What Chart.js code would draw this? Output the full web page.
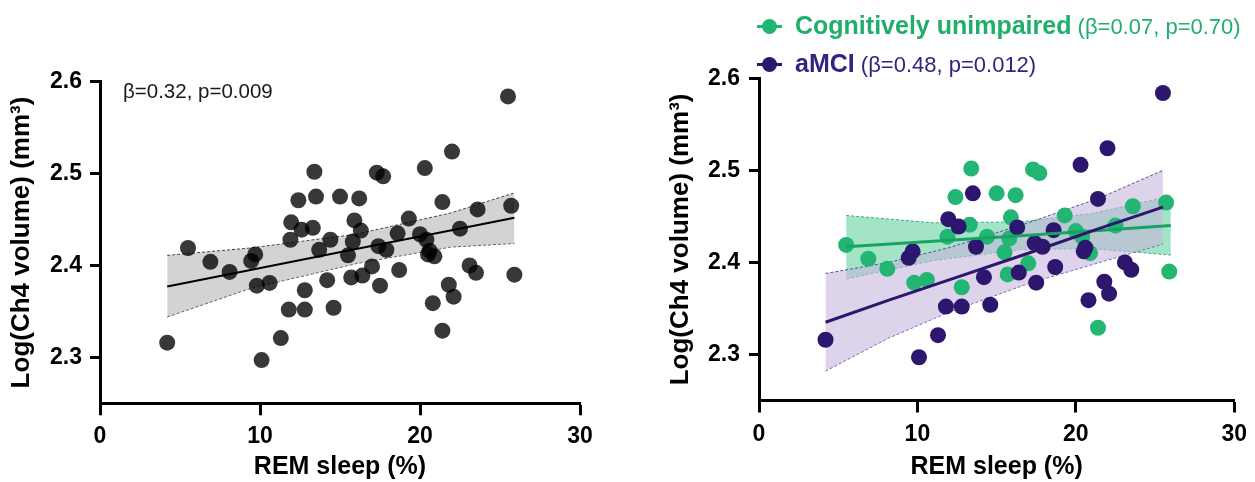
<!DOCTYPE html>
<html>
<head>
<meta charset="utf-8">
<script src="https://cdn.jsdelivr.net/npm/chart.js@4.4.1/dist/chart.umd.min.js"></script>
<style>
  body { margin:0; background:#fff; width:1255px; height:482px; overflow:hidden; position:relative;
         font-family:"Liberation Sans", Arial, sans-serif; }
  canvas { position:absolute; top:0; }
  #left  { left:0; }
  #right { left:655px; }
  .note { position:absolute; left:123px; top:78px; font-size:20.5px; line-height:26px; color:#1a1a1a; white-space:nowrap; }
  .leg  { position:absolute; left:757px; height:30px; line-height:30px; font-size:22px; white-space:nowrap; }
  .leg b { font-size:25px; }
  .mk { display:inline-block; position:relative; width:25px; height:3px; vertical-align:middle; margin-right:13px; top:-2px; }
  .mk::after { content:""; position:absolute; left:5px; top:-6px; width:15px; height:15px; border-radius:50%; background:inherit; }
</style>
</head>
<body>
<canvas id="left" width="630" height="482"></canvas>
<canvas id="right" width="600" height="482"></canvas>
<div class="note">β=0.32, p=0.009</div>
<div class="leg" style="top:10px;color:#1faf6b"><span class="mk" style="background:#22b573"></span><b>Cognitively unimpaired</b> (β=0.07, p=0.70)</div>
<div class="leg" style="top:48px;color:#35237f"><span class="mk" style="background:#2c166e"></span><b>aMCI</b> (β=0.48, p=0.012)</div>
<script>
const FONT = '"Liberation Sans", Arial, sans-serif';
const X_TICKS = [0, 10, 20, 30];
const Y_TICKS = [2.3, 2.4, 2.5, 2.6];

// cognitively unimpaired: REM sleep (%) / log Ch4 volume
const cuRem = [5.5, 6.9, 8.1, 9.8, 10.6, 11.9, 12.4, 12.8, 13.3, 13.4, 14.4, 15.0, 15.5, 15.7, 15.8,
               15.9, 16.2, 17.0, 17.3, 17.7, 19.3, 20.0, 20.4, 20.9, 21.4, 22.5, 23.6, 25.7, 25.9];
const cuVol = [2.419, 2.404, 2.393, 2.378, 2.381, 2.428, 2.471, 2.373, 2.441, 2.502, 2.428, 2.475, 2.411, 2.387, 2.426,
               2.449, 2.473, 2.399, 2.501, 2.497, 2.451, 2.434, 2.428, 2.410, 2.329, 2.440, 2.461, 2.465, 2.390];

// aMCI
const mciRem = [4.2, 9.45, 9.7, 10.1, 11.3, 11.8, 11.95, 12.6, 12.8, 13.5, 13.7, 14.2, 14.6, 16.3, 16.4, 17.4,
                17.5, 17.9, 18.6, 18.7, 20.3, 20.5, 20.6, 20.8, 21.4, 21.8, 22.0, 22.1, 23.1, 23.5, 25.5];
const mciVol = [2.316, 2.405, 2.412, 2.297, 2.321, 2.352, 2.447, 2.439, 2.352, 2.475, 2.417, 2.384, 2.354, 2.438, 2.389, 2.421,
                2.378, 2.417, 2.435, 2.395, 2.506, 2.412, 2.416, 2.359, 2.469, 2.379, 2.524, 2.366, 2.400, 2.392, 2.584];

// fitted lines and 95% bands
const allFitX = [4.2, 9.4, 16, 21.9, 25.9];
const allFit  = [2.377, 2.395, 2.418, 2.438, 2.452];
const allUp   = [2.411, 2.419, 2.434, 2.457, 2.479];
const allLo   = [2.344, 2.375, 2.402, 2.420, 2.424];

const cuFitX = [5.5, 11, 16.5, 21, 26];
const cuFit  = [2.417, 2.423, 2.429, 2.434, 2.440];
const cuUp   = [2.451, 2.443, 2.444, 2.453, 2.472];
const cuLo   = [2.382, 2.402, 2.414, 2.415, 2.408];

const mciFitX = [4.2, 8.2, 12, 17, 21.5, 25.5];
const mciFit  = [2.335, 2.359, 2.381, 2.410, 2.437, 2.460];
const mciUp   = [2.388, 2.400, 2.416, 2.443, 2.470, 2.500];
const mciLo   = [2.282, 2.318, 2.346, 2.377, 2.400, 2.420];

const GREEN = '#22b573', PURPLE = '#2c166e';

const pts = (xs, ys) => xs.map((x, i) => ({ x, y: ys[i] }));

function lineSet(xs, ys, color, width, extra) {
  return Object.assign({ type: 'line', data: pts(xs, ys), borderColor: color, borderWidth: width,
    pointRadius: 0, tension: 0, fill: false }, extra || {});
}
function dotSet(xs, ys, color) {
  return { type: 'scatter', data: pts(xs, ys), backgroundColor: color, borderWidth: 0, pointRadius: 8 };
}

function axes(g) {
  const tickFont = { family: FONT, size: 23, weight: 'bold' };
  const titleFont = { family: FONT, size: 25, weight: 'bold' };
  return {
    x: {
      type: 'linear', min: 0, max: 30,
      afterFit: s => { s.height = g.xh; },
      afterBuildTicks: s => { s.ticks = X_TICKS.map(v => ({ value: v })); },
      border: { display: true, color: '#000', width: 3 },
      grid: { drawOnChartArea: false, drawTicks: true, tickLength: 12, tickWidth: 3, tickColor: '#000' },
      ticks: { color: '#000', font: tickFont, padding: 8, maxRotation: 0 },
      title: { display: true, text: 'REM sleep (%)', color: '#000', font: titleFont, padding: 0 }
    },
    y: {
      type: 'linear', min: 2.25, max: 2.6,
      afterFit: s => { s.width = g.yw; },
      afterBuildTicks: s => { s.ticks = Y_TICKS.map(v => ({ value: v })); },
      border: { display: true, color: '#000', width: 3 },
      grid: { drawOnChartArea: false, drawTicks: true, tickLength: 10, tickWidth: 3, tickColor: '#000' },
      ticks: { color: '#000', font: tickFont, padding: g.tp, callback: v => v.toFixed(1) },
      title: { display: true, text: 'Log(Ch4 volume) (mm³)', color: '#000', font: { family: FONT, size: 26, weight: 'bold' },
               padding: { top: g.tt, bottom: 0 } }
    }
  };
}

function makeChart(id, datasets, g) {
  return new Chart(document.getElementById(id), {
    type: 'scatter',
    data: { datasets },
    options: {
      responsive: false, animation: false, events: [],
      layout: { padding: { left: 0, top: g.top, right: g.right, bottom: 0 } },
      plugins: { legend: { display: false }, tooltip: { enabled: false } },
      scales: axes(g)
    }
  });
}

// left: all participants
makeChart('left', [
  lineSet(allFitX, allFit, '#000', 2),
  dotSet(cuRem.concat(mciRem), cuVol.concat(mciVol), 'rgba(0,0,0,0.78)'),
  lineSet(allFitX, allUp, '#444', 1, { borderDash: [3, 2], fill: { target: 3 }, backgroundColor: 'rgba(175,175,175,0.55)' }),
  lineSet(allFitX, allLo, '#444', 1, { borderDash: [3, 2] })
], { top: 81.7, right: 50, xh: 78.7, yw: 100, tp: 8, tt: 6 });

// right: by group
makeChart('right', [
  lineSet(mciFitX, mciFit, PURPLE, 3),
  lineSet(cuFitX, cuFit, '#17a462', 3),
  dotSet(mciRem, mciVol, PURPLE),
  dotSet(cuRem, cuVol, GREEN),
  lineSet(mciFitX, mciUp, '#5b4a9a', 1, { borderDash: [3, 2], fill: { target: 5 }, backgroundColor: 'rgba(198,182,220,0.6)' }),
  lineSet(mciFitX, mciLo, '#5b4a9a', 1, { borderDash: [3, 2] }),
  lineSet(cuFitX, cuUp, '#3aa887', 1, { borderDash: [3, 2], fill: { target: 7 }, backgroundColor: 'rgba(50,195,130,0.45)' }),
  lineSet(cuFitX, cuLo, '#3aa887', 1, { borderDash: [3, 2] })
], { top: 78.3, right: 15, xh: 81.5, yw: 104, tp: 9, tt: 10 });
</script>
</body>
</html>
